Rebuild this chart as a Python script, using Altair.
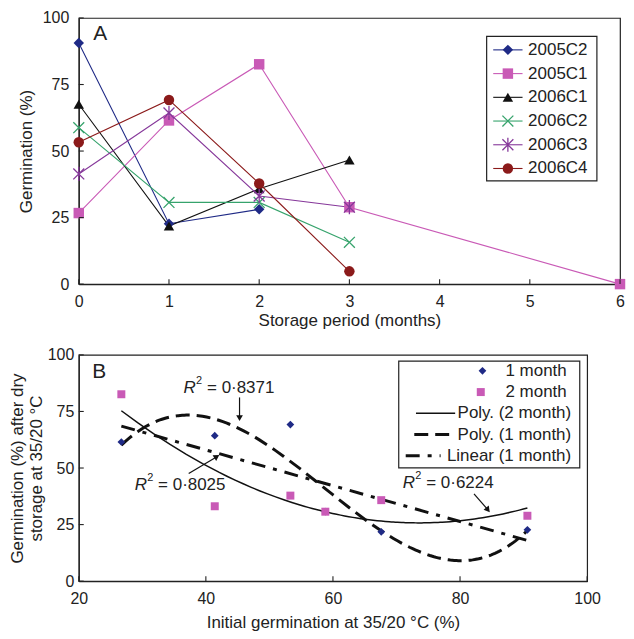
import altair as alt
import pandas as pd

FONT = "Liberation Sans"
INK = "#222222"

# ---------------- Panel A data ----------------
series_names = ["2005C2", "2005C1", "2006C1", "2006C2", "2006C3", "2006C4"]
series_colors = ["#1f2a86", "#c95ab6", "#111111", "#36a36c", "#86389a", "#8b1a1a"]
X_PATH = "M-1,-1L1,1M-1,1L1,-1"
AST_PATH = "M-1,-1L1,1M-1,1L1,-1M0,-1.3L0,1.3"
series_shapes = ["diamond", "square", "triangle-up", X_PATH, AST_PATH, "circle"]
series_filled = [True, True, True, False, False, True]
filled_series = [n for n, f in zip(series_names, series_filled) if f]
stroked_series = [n for n, f in zip(series_names, series_filled) if not f]

months_2005C2 = [0, 1, 2]
germ_2005C2 = [90.6, 22.7, 28.1]
months_2005C1 = [0, 1, 2, 3, 6]
germ_2005C1 = [26.7, 61.5, 82.6, 28.9, 0.0]
months_2006C1 = [0, 1, 2, 3]
germ_2006C1 = [67.6, 21.8, 35.8, 46.6]
months_2006C2 = [0, 1, 2, 3]
germ_2006C2 = [58.8, 30.7, 30.7, 15.7]
months_2006C3 = [0, 1, 2, 3]
germ_2006C3 = [41.4, 64.3, 33.1, 28.9]
months_2006C4 = [0, 1, 2, 3]
germ_2006C4 = [53.3, 69.2, 37.8, 4.8]

a_x_ticks = [0, 1, 2, 3, 4, 5, 6]
a_y_ticks = [0, 25, 50, 75, 100]

# ---------------- Panel B data ----------------
initial_germ = [26.7, 41.4, 53.3, 58.8, 67.6, 90.6]
germ_1month = [61.5, 64.3, 69.2, 30.7, 21.8, 22.7]
germ_2month = [82.6, 33.1, 37.8, 30.7, 35.8, 28.9]
b_x_ticks = [20, 40, 60, 80, 100]
b_y_ticks = [0, 25, 50, 75, 100]

ann_values = ["0·8371", "0·8025", "0·6224"]
ann_x = [36.5, 28.8, 71.0]
ann_y = [85.3, 42.6, 43.3]

arrow_x1 = [45.3, 37.3, 82.2]
arrow_y1 = [81.2, 47.6, 38.6]
arrow_x2 = [45.3, 41.6, 84.3]
arrow_y2 = [72.5, 54.8, 31.8]
arrow_angle = [180, 58, 141]

legB_names = ["1 month", "2 month", "Poly. (2 month)", "Poly. (1 month)", "Linear (1 month)"]

# ---------------- tables ----------------
rows = []
for name, ms, gs in [
    ("2005C2", months_2005C2, germ_2005C2),
    ("2005C1", months_2005C1, germ_2005C1),
    ("2006C1", months_2006C1, germ_2006C1),
    ("2006C2", months_2006C2, germ_2006C2),
    ("2006C3", months_2006C3, germ_2006C3),
    ("2006C4", months_2006C4, germ_2006C4),
]:
    for m, g in zip(ms, gs):
        rows.append({"series": name, "month": m, "germ": g})
df_a = pd.DataFrame(rows)

df_b = pd.DataFrame({"initial": initial_germ, "month1": germ_1month, "month2": germ_2month})
df_b_long = pd.DataFrame(
    {"initial": initial_germ + initial_germ,
     "value": germ_1month + germ_2month,
     "period": ["1 month"] * len(initial_germ) + ["2 month"] * len(initial_germ)}
)
df_ann = pd.DataFrame({"x": ann_x, "y": ann_y, "eq": ["= " + v for v in ann_values],
                       "R": ["R"] * 3, "sup": ["2"] * 3})
df_arrow = pd.DataFrame({"x1": arrow_x1, "y1": arrow_y1, "x2": arrow_x2, "y2": arrow_y2, "ang": arrow_angle})


def one(label=""):
    return alt.Chart(pd.DataFrame({"t": [label]}))


# ---------------- sizes ----------------
WA, HA = 543, 267
WB, HB = 510, 227


def axis(values, title, lp, tp, **kw):
    return alt.Axis(values=values, title=title, ticks=False, grid=False,
                    domainColor=INK, domainWidth=1.2,
                    labelFontSize=16, titleFontSize=17, titleFontWeight="normal",
                    labelFont=FONT, titleFont=FONT, labelColor=INK, titleColor=INK,
                    labelPadding=lp, titlePadding=tp, labelFlush=False, **kw)


# ================= Panel A =================
xA = alt.Scale(domain=[0, 6], nice=False)
yA = alt.Scale(domain=[0, 100], nice=False)
colorA = alt.Scale(domain=series_names, range=series_colors)
shapeA = alt.Scale(domain=series_names, range=series_shapes)

baseA = alt.Chart(df_a)
linesA = baseA.mark_line(strokeWidth=1.1).encode(
    x=alt.X("month:Q", scale=xA, axis=axis(a_x_ticks, "Storage period (months)", 9, 4, format="d")),
    y=alt.Y("germ:Q", scale=yA, axis=axis(a_y_ticks, "Germination (%)", 10, 7)),
    color=alt.Color("series:N", scale=colorA, legend=None),
    order=alt.Order("month:Q"),
)
ptsA_f = baseA.transform_filter(alt.FieldOneOfPredicate(field="series", oneOf=filled_series)).mark_point(
    filled=True, opacity=1, size=110).encode(
    x=alt.X("month:Q", scale=xA),
    y=alt.Y("germ:Q", scale=yA),
    color=alt.Color("series:N", scale=colorA, legend=None),
    shape=alt.Shape("series:N", scale=shapeA, legend=None),
)
ptsA_s = baseA.transform_filter(alt.FieldOneOfPredicate(field="series", oneOf=stroked_series)).mark_point(
    filled=False, opacity=1, size=120, strokeWidth=1.3).encode(
    x=alt.X("month:Q", scale=xA),
    y=alt.Y("germ:Q", scale=yA),
    color=alt.Color("series:N", scale=colorA, legend=None),
    shape=alt.Shape("series:N", scale=shapeA, legend=None),
)
ticksAx = alt.Chart(pd.DataFrame({"month": a_x_ticks})).mark_rule(color=INK, strokeWidth=1.1).encode(
    x=alt.X("month:Q", scale=xA), y=alt.value(HA), y2=alt.value(HA - 5))
ticksAy = alt.Chart(pd.DataFrame({"germ": a_y_ticks})).mark_rule(color=INK, strokeWidth=1.1).encode(
    y=alt.Y("germ:Q", scale=yA), x=alt.value(0), x2=alt.value(5))

# legend A (drawn inside the plot, one row per series)
LAX = 409.2  # left edge of the legend frame, px from the plot's left edge
legA_layers = [one().mark_rect(fill="white", stroke=INK, strokeWidth=1.2).encode(
    x=alt.value(LAX), x2=alt.value(LAX + 110.6), y=alt.value(18.5), y2=alt.value(163.5))]
for i, (name, col, shp, fil) in enumerate(zip(series_names, series_colors, series_shapes, series_filled)):
    yy = 32 + 23.8 * i
    legA_layers.append(one().mark_rule(color=col, strokeWidth=1.1).encode(
        x=alt.value(LAX + 6.6), x2=alt.value(LAX + 36), y=alt.value(yy)))
    legA_layers.append(one().mark_point(shape=shp, filled=fil, color=col, opacity=1,
                                        size=110 if fil else 120, strokeWidth=1.3).encode(
        x=alt.value(LAX + 21.3), y=alt.value(yy)))
    legA_layers.append(one(name).mark_text(align="left", baseline="middle", fontSize=17, font=FONT,
                                           color=INK).encode(
        x=alt.value(LAX + 41.6), y=alt.value(yy), text="t:N"))

labelA = one("A").mark_text(align="left", baseline="middle", fontSize=21, font=FONT, color=INK).encode(
    x=alt.value(14.5), y=alt.value(16), text="t:N")

panelA = alt.layer(linesA, ptsA_f, ptsA_s, ticksAx, ticksAy, *legA_layers, labelA).properties(
    width=WA, height=HA)

# ================= Panel B =================
xB = alt.Scale(domain=[20, 100], nice=False)
yB = alt.Scale(domain=[0, 100], nice=False)
NAVY = "#1f2a86"
MAG = "#c95ab6"

axBx = axis(b_x_ticks, "Initial germination at 35/20 °C (%)", 9, 8)
axBy = axis(b_y_ticks, ["Germination (%) after dry", "storage at 35/20 °C"], 5, 2, titleLineHeight=18.4)

reg2 = alt.Chart(df_b).transform_regression("initial", "month2", method="poly", order=2).mark_line(
    color="#111111", strokeWidth=1.5).encode(
    x=alt.X("initial:Q", scale=xB, axis=axBx), y=alt.Y("month2:Q", scale=yB, axis=axBy))
reg1 = alt.Chart(df_b).transform_regression("initial", "month1", method="poly", order=3).mark_line(
    color="#111111", strokeWidth=3, strokeDash=[14, 7]).encode(
    x=alt.X("initial:Q", scale=xB), y=alt.Y("month1:Q", scale=yB))
lin1 = alt.Chart(df_b).transform_regression("initial", "month1", method="linear").mark_line(
    color="#111111", strokeWidth=3, strokeDash=[14, 8, 4, 8]).encode(
    x=alt.X("initial:Q", scale=xB), y=alt.Y("month1:Q", scale=yB))

pts1 = alt.Chart(df_b_long).transform_filter(alt.datum.period == "1 month").mark_point(
    filled=True, opacity=1, shape="diamond", size=60, color=NAVY).encode(
    x=alt.X("initial:Q", scale=xB), y=alt.Y("value:Q", scale=yB))
pts2 = alt.Chart(df_b_long).transform_filter(alt.datum.period == "2 month").mark_point(
    filled=True, opacity=1, shape="square", size=64, color=MAG).encode(
    x=alt.X("initial:Q", scale=xB), y=alt.Y("value:Q", scale=yB))

ticksBx = alt.Chart(pd.DataFrame({"initial": b_x_ticks})).mark_rule(color=INK, strokeWidth=1.1).encode(
    x=alt.X("initial:Q", scale=xB), y=alt.value(HB), y2=alt.value(HB - 5))
ticksBy = alt.Chart(pd.DataFrame({"value": b_y_ticks})).mark_rule(color=INK, strokeWidth=1.1).encode(
    y=alt.Y("value:Q", scale=yB), x=alt.value(0), x2=alt.value(5))

annR = alt.Chart(df_ann).mark_text(align="left", baseline="middle", fontSize=17, font=FONT,
                                   fontStyle="italic", color=INK).encode(
    x=alt.X("x:Q", scale=xB), y=alt.Y("y:Q", scale=yB), text="R:N")
annSup = alt.Chart(df_ann).mark_text(align="left", baseline="middle", fontSize=11, font=FONT,
                                     color=INK, dx=12.5, dy=-7).encode(
    x=alt.X("x:Q", scale=xB), y=alt.Y("y:Q", scale=yB), text="sup:N")
annEq = alt.Chart(df_ann).mark_text(align="left", baseline="middle", fontSize=17, font=FONT,
                                    color=INK, dx=23.5).encode(
    x=alt.X("x:Q", scale=xB), y=alt.Y("y:Q", scale=yB), text="eq:N")
arrowLine = alt.Chart(df_arrow).mark_rule(color="#111111", strokeWidth=1.2).encode(
    x=alt.X("x1:Q", scale=xB), y=alt.Y("y1:Q", scale=yB), x2="x2:Q", y2="y2:Q")
arrowHead = alt.Chart(df_arrow).mark_point(shape="triangle", filled=True, opacity=1, size=45,
                                           color="#111111").encode(
    x=alt.X("x2:Q", scale=xB), y=alt.Y("y2:Q", scale=yB),
    angle=alt.Angle("ang:Q", scale=None))

# legend B
legB_y = [16.0 + 21.3 * i for i in range(len(legB_names))]
legB_layers = [
    one().mark_rect(fill="white", stroke=INK, strokeWidth=1.2).encode(
        x=alt.value(WB - 189), x2=alt.value(WB - 7.4), y=alt.value(6.2), y2=alt.value(113.3)),
    one().mark_point(filled=True, opacity=1, shape="diamond", size=60, color=NAVY).encode(
        x=alt.value(WB - 105), y=alt.value(legB_y[0])),
    one().mark_point(filled=True, opacity=1, shape="square", size=64, color=MAG).encode(
        x=alt.value(WB - 106.7), y=alt.value(legB_y[1])),
    one().mark_rule(color="#111111", strokeWidth=1.5).encode(
        x=alt.value(WB - 171.7), x2=alt.value(WB - 132.4), y=alt.value(legB_y[2])),
    one().mark_rule(color="#111111", strokeWidth=3, strokeDash=[14, 7]).encode(
        x=alt.value(WB - 173.4), x2=alt.value(WB - 133.4), y=alt.value(legB_y[3])),
    one().mark_rule(color="#111111", strokeWidth=3, strokeDash=[14, 8, 4, 8]).encode(
        x=alt.value(WB - 182), x2=alt.value(WB - 147), y=alt.value(legB_y[4])),
]
for i, name in enumerate(legB_names):
    legB_layers.append(one(name).mark_text(align="right", baseline="middle", fontSize=17, font=FONT,
                                           color=INK).encode(
        x=alt.value(WB - (20.5 if i < 2 else 16)), y=alt.value(legB_y[i]), text="t:N"))

labelB = one("B").mark_text(align="left", baseline="middle", fontSize=21, font=FONT, color=INK).encode(
    x=alt.value(13.5), y=alt.value(17), text="t:N")

panelB = alt.layer(reg2, reg1, lin1, pts1, pts2, ticksBx, ticksBy, arrowLine, arrowHead,
                   annR, annSup, annEq, *legB_layers, labelB).properties(width=WB, height=HB)

chart = alt.vconcat(panelA, panelB, spacing=16).properties(
    padding={"left": 0, "top": 0, "right": 0, "bottom": 0}
).configure(font=FONT).configure_view(stroke=INK, strokeWidth=1.2)

chart.save("out.html", embed_options={"renderer": "svg", "actions": False})
